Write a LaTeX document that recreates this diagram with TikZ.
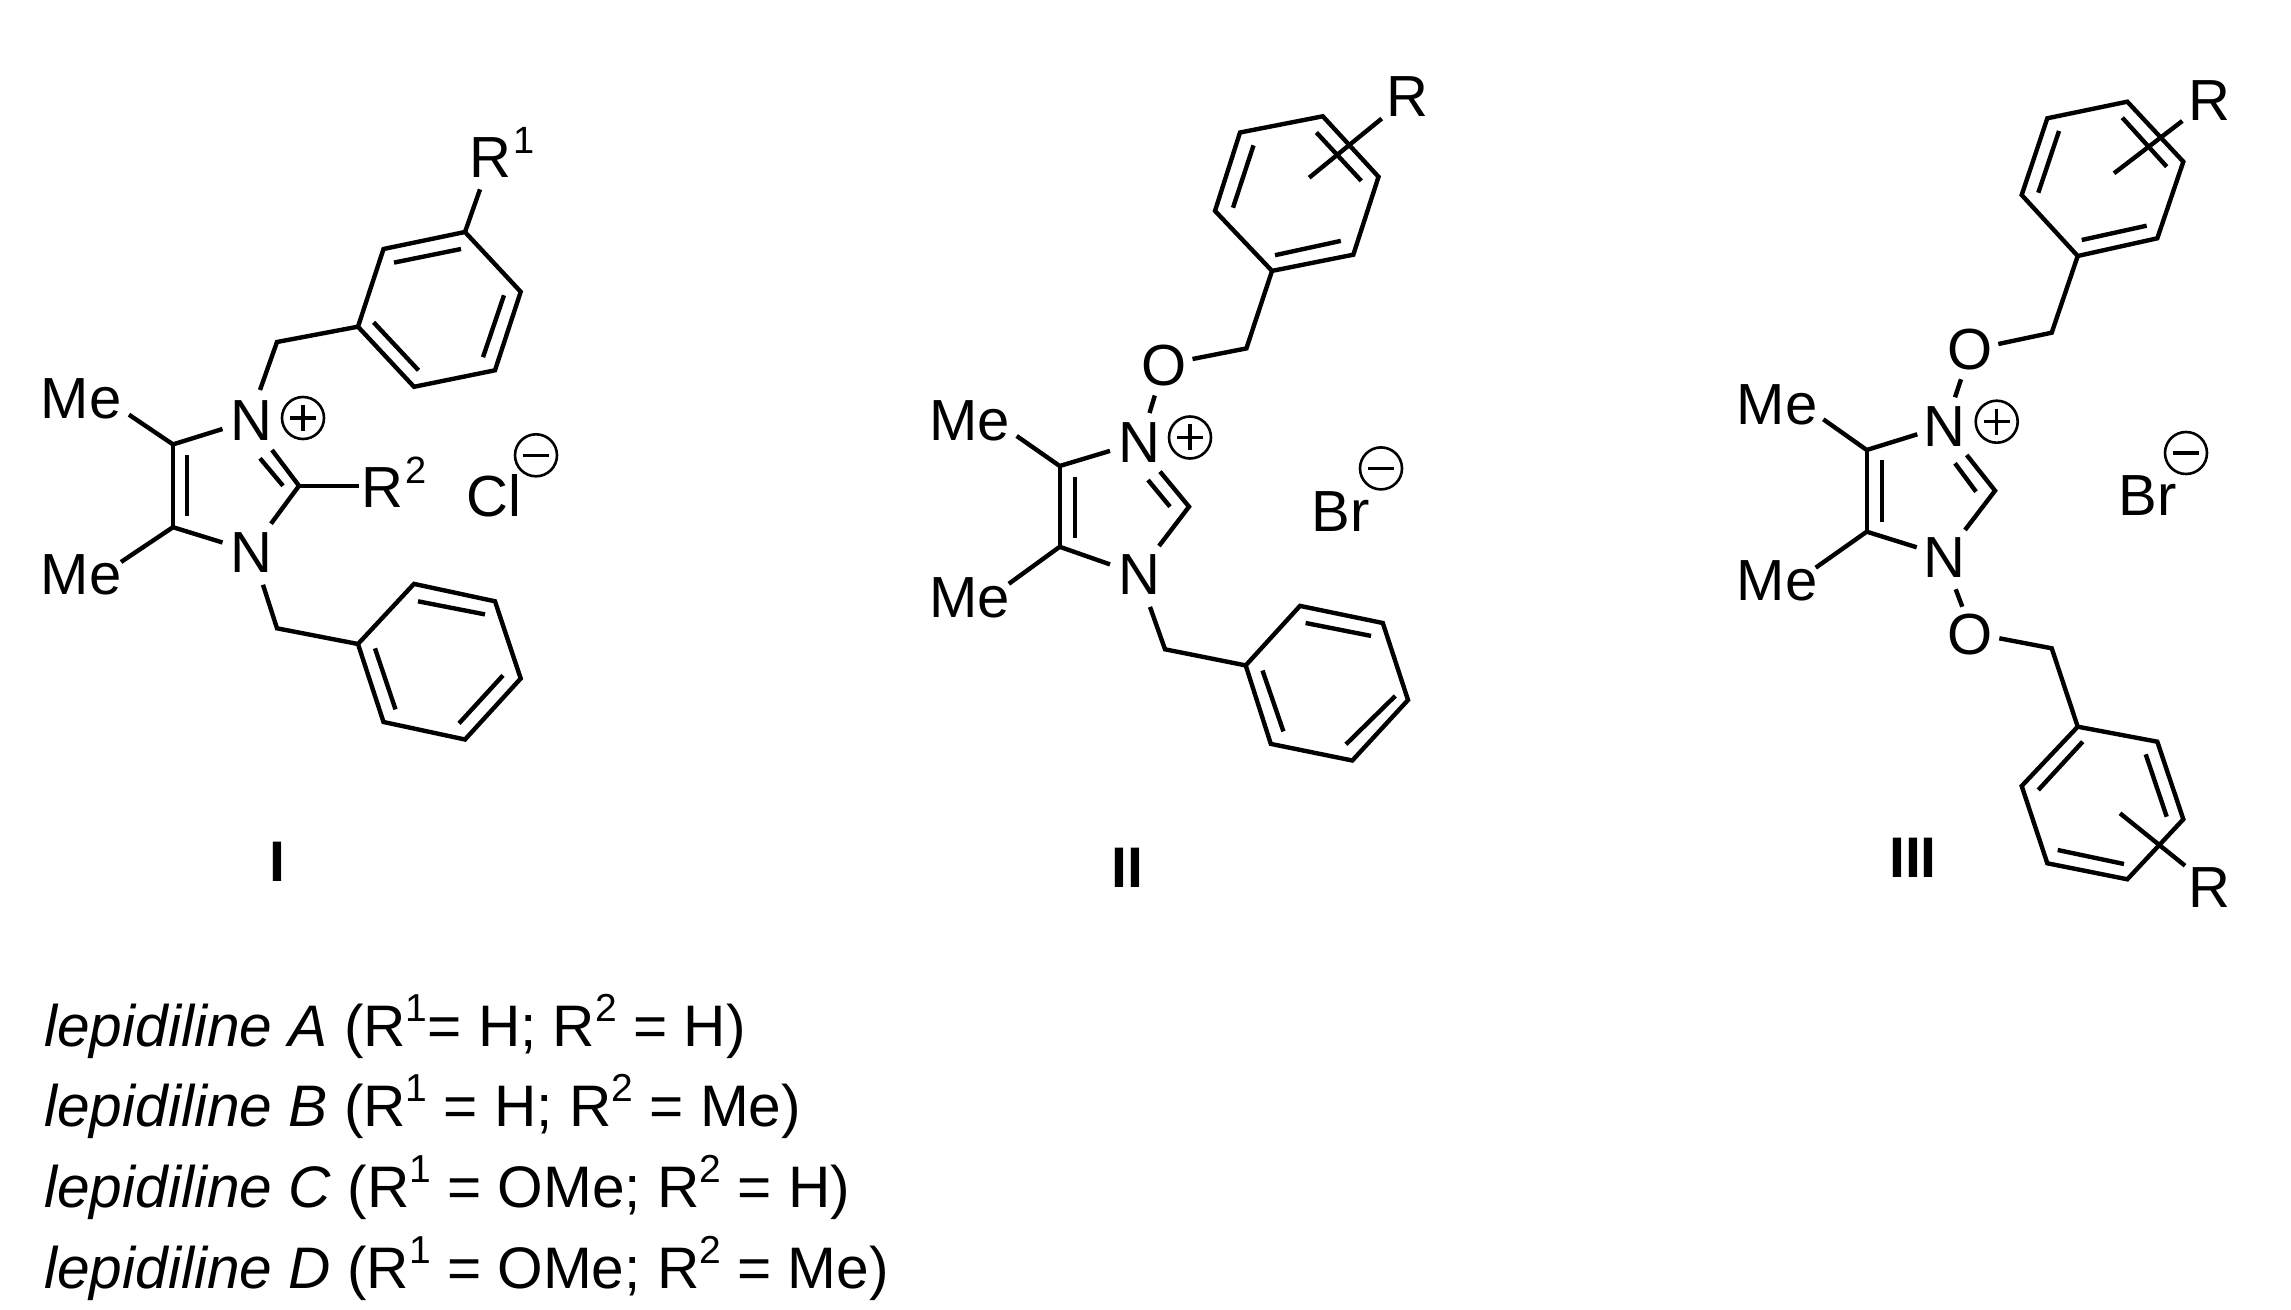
\documentclass[tikz,border=0pt]{standalone}
\usepackage{fontspec}
\setmainfont{Liberation Sans}
\tikzset{
  x=0.5pt,y=-0.5pt,
  bond/.style={line width=2.2pt,line join=miter,line cap=butt},
  atom/.style={inner sep=0pt,anchor=base,font=\fontsize{29}{29}\selectfont},
  charge/.style={circle,draw,line width=1.3pt,minimum size=21pt,inner sep=0pt},
  sign/.style={line width=1.7pt},
  tag/.style={inner sep=0pt,anchor=base,font=\fontsize{28.6}{28.6}\selectfont\bfseries},
  entry/.style={inner sep=0pt,anchor=base west,font=\fontsize{29.3}{29.3}\selectfont},
}
\newcommand{\supr}[1]{\kern1pt\raisebox{12pt}{\fontsize{19}{19}\selectfont #1}}
\newcommand{\lsup}[1]{\raisebox{12.5pt}{\fontsize{19.5}{19.5}\selectfont #1}}
\newcommand{\plusc}[2]{%
  \node[charge] (#1) at (#2) {};
  \draw[sign] ($(#1)+(-13,0)$) -- ($(#1)+(13,0)$);
  \draw[sign] ($(#1)+(0,-13)$) -- ($(#1)+(0,13)$);}
\newcommand{\minusc}[2]{%
  \node[charge] (#1) at (#2) {};
  \draw[sign] ($(#1)+(-13,0)$) -- ($(#1)+(13,0)$);}
\usetikzlibrary{calc}
\begin{document}
\begin{tikzpicture}
\useasboundingbox (0,0) rectangle (2291,1310);
\fill[white] (0,0) rectangle (2291,1310);

% ---------- Structure I ----------
\node[atom] (Ime1) at (81,418.2) {Me};
\node[atom] (Ime2) at (81,594.8) {Me};
\node[atom] (In1) at (251.5,440.9) {N};
\node[atom] (In3) at (251.5,572.1) {N};
\node[atom,anchor=base west] (Ir2) at (361.5,507.6) {R\supr{2}};
\node[atom,anchor=base west] (Ir1) at (469.5,177.6) {R\supr{1}};
\node[atom,anchor=base west] (Icl) at (466,516.3) {Cl};
\plusc{Ip}{303,418}
\minusc{Im}{536,455.3}
\coordinate (Ic4) at (173,444.4);
\coordinate (Ic5) at (173,527.2);
\coordinate (Ic2) at (299,485.8);
\draw[bond] (129,414.7) -- (Ic4) -- (222.5,429);
\draw[bond] (121,562) -- (Ic5) -- (222.5,542.5);
\draw[bond] (Ic4) -- (Ic5);
\draw[bond] (187,455) -- (187,516.3);
\draw[bond] (272,450) -- (Ic2) -- (271,523.7);
\draw[bond] (260,458.3) -- (283,485.8);
\draw[bond] (Ic2) -- (359,485.8);
\coordinate (Ia1) at (358,326.7);
\coordinate (Ia2) at (383.5,249);
\coordinate (Ia3) at (465,232);
\coordinate (Ia4) at (520.7,291.8);
\coordinate (Ia5) at (495,370.3);
\coordinate (Ia6) at (414,386.8);
\draw[bond] (260,390) -- (277,342) -- (Ia1);
\draw[bond] (Ia1) -- (Ia2) -- (Ia3) -- (Ia4) -- (Ia5) -- (Ia6) -- cycle;
\draw[bond] (394,262.6) -- (461,249);
\draw[bond] (504,295.3) -- (483,357.2);
\draw[bond] (373.6,322.3) -- (418.5,370.3);
\draw[bond] (Ia3) -- (480,189.4);
\coordinate (Ib1) at (358,644);
\coordinate (Ib2) at (414,583.9);
\coordinate (Ib3) at (495,601.3);
\coordinate (Ib4) at (520.7,678.5);
\coordinate (Ib5) at (465,739.5);
\coordinate (Ib6) at (383.5,722);
\draw[bond] (263,584.8) -- (277,628.3) -- (Ib1);
\draw[bond] (Ib1) -- (Ib2) -- (Ib3) -- (Ib4) -- (Ib5) -- (Ib6) -- cycle;
\draw[bond] (418,601.3) -- (485,614.4);
\draw[bond] (503,675.4) -- (459,723.4);
\draw[bond] (375,648.4) -- (395.5,709.4);

% ---------- Structure II ----------
\node[atom] (IIme1) at (969.5,440.7) {Me};
\node[atom] (IIme2) at (969.5,617) {Me};
\node[atom] (IIn1) at (1139,462.4) {N};
\node[atom] (IIn3) at (1139,594.4) {N};
\node[atom] (IIo) at (1164.5,385.3) {O};
\node[atom,anchor=base west] (IIr) at (1386.5,116.8) {R};
\node[atom,anchor=base west] (IIbr) at (1311.5,531.6) {Br};
\plusc{IIp}{1190,437.5}
\minusc{IIm}{1381,468.4}
\coordinate (IIc4) at (1059.7,466);
\coordinate (IIc5) at (1059.7,546.8);
\coordinate (IIc2) at (1189,506.7);
\draw[bond] (1016.7,436) -- (IIc4) -- (1110,450.9);
\draw[bond] (1008.8,583.8) -- (IIc5) -- (1110,564.4);
\draw[bond] (IIc4) -- (IIc5);
\draw[bond] (1074.8,476.7) -- (1074.8,537.6);
\draw[bond] (1160,471.6) -- (IIc2) -- (1159,546);
\draw[bond] (1148,480) -- (1170,506.7);
\draw[bond] (1149.5,413) -- (1154.8,395.5);
\coordinate (IIa1) at (1272,270.9);
\coordinate (IIa2) at (1215,210.9);
\coordinate (IIa3) at (1240,132.5);
\coordinate (IIa4) at (1322.8,116.3);
\coordinate (IIa5) at (1378.5,176.8);
\coordinate (IIa6) at (1353.3,254.7);
\draw[bond] (1192.5,359) -- (1246.4,348.4) -- (IIa1);
\draw[bond] (IIa1) -- (IIa2) -- (IIa3) -- (IIa4) -- (IIa5) -- (IIa6) -- cycle;
\draw[bond] (1275,255.2) -- (1340.8,240.9);
\draw[bond] (1233,207.7) -- (1253.5,145.4);
\draw[bond] (1316.4,132.5) -- (1361.3,180.9);
\draw[bond] (1381.7,118.6) -- (1309.2,177.7);
\coordinate (IIb1) at (1245.7,665.4);
\coordinate (IIb2) at (1300,605.9);
\coordinate (IIb3) at (1382.8,623);
\coordinate (IIb4) at (1408,700);
\coordinate (IIb5) at (1352.3,760.5);
\coordinate (IIb6) at (1270.8,743.9);
\draw[bond] (1150,606.9) -- (1165,649.3) -- (IIb1);
\draw[bond] (IIb1) -- (IIb2) -- (IIb3) -- (IIb4) -- (IIb5) -- (IIb6) -- cycle;
\draw[bond] (1305.6,623) -- (1371,635.9);
\draw[bond] (1395.3,695.9) -- (1346,744.3);
\draw[bond] (1262.5,670.5) -- (1283.4,731.4);

% ---------- Structure III ----------
\node[atom] (IIIme1) at (1777,425) {Me};
\node[atom] (IIIme2) at (1777,600) {Me};
\node[atom] (IIIn1) at (1944.5,446.7) {N};
\node[atom] (IIIn3) at (1944.5,577.3) {N};
\node[atom] (IIIo1) at (1970,370) {O};
\node[atom] (IIIo2) at (1970,654) {O};
\node[atom,anchor=base west] (IIIr1) at (2188.5,121) {R};
\node[atom,anchor=base west] (IIIr2) at (2188.5,907.7) {R};
\node[atom,anchor=base west] (IIIbr) at (2118.5,515) {Br};
\plusc{IIIp}{1996.7,421.7}
\minusc{IIIm}{2186,453}
\coordinate (IIIc4) at (1866.7,450);
\coordinate (IIIc5) at (1866.7,531.7);
\coordinate (IIIc2) at (1995,490.7);
\draw[bond] (1823.3,419.3) -- (IIIc4) -- (1917.3,434.3);
\draw[bond] (1815.7,567.7) -- (IIIc5) -- (1916.7,547.3);
\draw[bond] (IIIc4) -- (IIIc5);
\draw[bond] (1881.7,460) -- (1881.7,521.7);
\draw[bond] (1966.7,455) -- (IIIc2) -- (1965,530);
\draw[bond] (1955,463.3) -- (1976,491.7);
\draw[bond] (1955,397.3) -- (1961,379.3);
\draw[bond] (1955.7,589.3) -- (1962.3,606.7);
\coordinate (IIIa1) at (2077.7,256);
\coordinate (IIIa2) at (2021.7,195);
\coordinate (IIIa3) at (2047.3,118.3);
\coordinate (IIIa4) at (2127.3,101.7);
\coordinate (IIIa5) at (2183.3,161.7);
\coordinate (IIIa6) at (2157.3,238.3);
\draw[bond] (1998.3,344) -- (2051.7,332.7) -- (IIIa1);
\draw[bond] (IIIa1) -- (IIIa2) -- (IIIa3) -- (IIIa4) -- (IIIa5) -- (IIIa6) -- cycle;
\draw[bond] (2081.7,240) -- (2146.7,225.7);
\draw[bond] (2038.3,192.7) -- (2059,131);
\draw[bond] (2122.3,117.7) -- (2166.7,166.7);
\draw[bond] (2182.3,121) -- (2114,173.3);
\coordinate (IIIb1) at (2077.7,726.7);
\coordinate (IIIb2) at (2157.3,741.7);
\coordinate (IIIb3) at (2183.3,819.3);
\coordinate (IIIb4) at (2127.3,879.3);
\coordinate (IIIb5) at (2047.3,863.3);
\coordinate (IIIb6) at (2021.7,786);
\draw[bond] (1999.3,638.3) -- (2051.7,648.3) -- (IIIb1);
\draw[bond] (IIIb1) -- (IIIb2) -- (IIIb3) -- (IIIb4) -- (IIIb5) -- (IIIb6) -- cycle;
\draw[bond] (2082.7,741.7) -- (2038.3,790);
\draw[bond] (2145.7,754.3) -- (2166.7,816.7);
\draw[bond] (2057.7,850) -- (2124,864);
\draw[bond] (2120,813.3) -- (2185,865.7);

% ---------- Labels ----------
\node[tag] (tagI) at (277,881) {I};
\node[tag] (tagII) at (1127.5,887.7) {II};
\node[tag] (tagIII) at (1913,877.3) {III};
\node[entry] (l1) at (44,1046.7) {\textit{lepidiline A} (R\lsup{1}= H; R\lsup{2} = H)};
\node[entry] (l2) at (44,1126.7) {\textit{lepidiline B} (R\lsup{1} = H; R\lsup{2} = Me)};
\node[entry] (l3) at (44,1207) {\textit{lepidiline C} (R\lsup{1} = OMe; R\lsup{2} = H)};
\node[entry] (l4) at (44,1288) {\textit{lepidiline D} (R\lsup{1} = OMe; R\lsup{2} = Me)};
\end{tikzpicture}
\end{document}
